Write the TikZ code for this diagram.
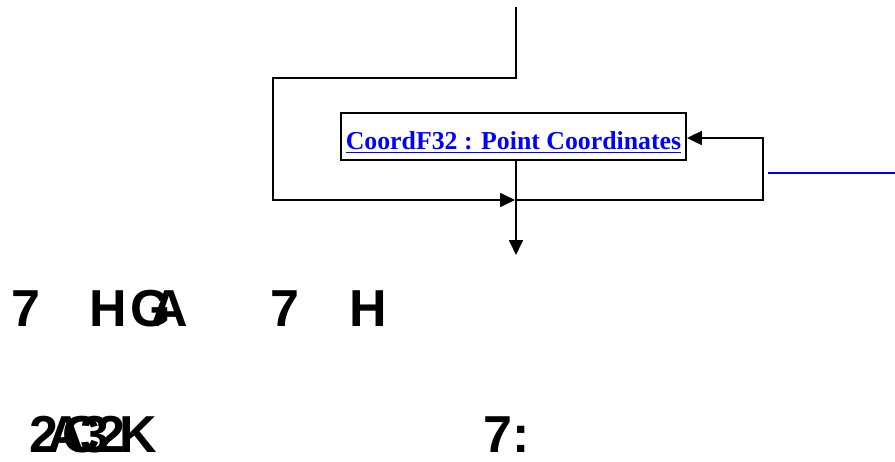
\documentclass[tikz,border=0pt]{standalone}
\usepackage{fontspec}
\setmainfont{Liberation Serif}
\newfontfamily\glyphfont{Liberation Sans}
\usetikzlibrary{arrows.meta}
\definecolor{linkblue}{RGB}{0,0,255}
\tikzset{
  conn/.style={line width=1.8pt, draw=black},
  tip/.style={-{Triangle[length=15pt,width=14pt]}},
  glyph/.style={anchor=base west, inner sep=0pt, font=\glyphfont\bfseries\fontsize{52}{52}\selectfont},
  boxstyle/.style={draw, line width=1.8pt, minimum width=345pt, minimum height=47pt, inner sep=0pt},
  linktext/.style={anchor=base, inner sep=0pt, text=linkblue, font=\bfseries\fontsize{25.8}{26}\selectfont}
}
\begin{document}
\begin{tikzpicture}[x=1pt,y=-1pt]
\useasboundingbox (0,0) rectangle (895,461);
% box and link text
\node[boxstyle] (box) at (513.5,136.5) {};
\node[linktext] (t) at (513.5,149.5) {CoordF32 : Point Coordinates};
\draw[linkblue, line width=1.5pt] ([yshift=-3pt]t.base west) -- ([yshift=-3pt]t.base east);
% coordinates
\coordinate (top) at (516,7);
\coordinate (c1) at (516,78);
\coordinate (c2) at (273,78);
\coordinate (c3) at (273,200);
\coordinate (join) at (516,200);
\coordinate (r1) at (763,200);
\coordinate (r2) at (763,138);
\coordinate (out) at (516,255);
% connectors
\draw[conn, tip] (top) -- (c1) -- (c2) -- (c3) -- ([xshift=-1pt]join);
\draw[conn, tip] (box.south -| out) -- (out);
\draw[conn, tip] (join) -- (r1) -- (r2) -- (box.east |- r2);
% blue line
\coordinate (b1) at (768,173);
\coordinate (b2) at (895,173);
\draw[linkblue, line width=2pt] (b1) -- (b2);
% glyph row 1
\node[glyph] (g1) at (11,326) {7};
\node[glyph] (g2) at (89,326) {H};
\node[glyph] (g3) at (130,326) {G};
\node[glyph] (g4) at (150,326) {A};
\node[glyph] (g5) at (270,326) {7};
\node[glyph] (g6) at (349,326) {H};
% glyph row 2
\node[glyph] (h1) at (29,452) {2};
\node[glyph] (h2) at (47,452) {A};
\node[glyph] (h3) at (62,452) {C};
\node[glyph] (h4) at (80,452) {3};
\node[glyph] (h5) at (96,452) {2};
\node[glyph] (h6) at (119,452) {K};
\node[glyph] (h7) at (483,452) {7:};
\end{tikzpicture}
\end{document}
